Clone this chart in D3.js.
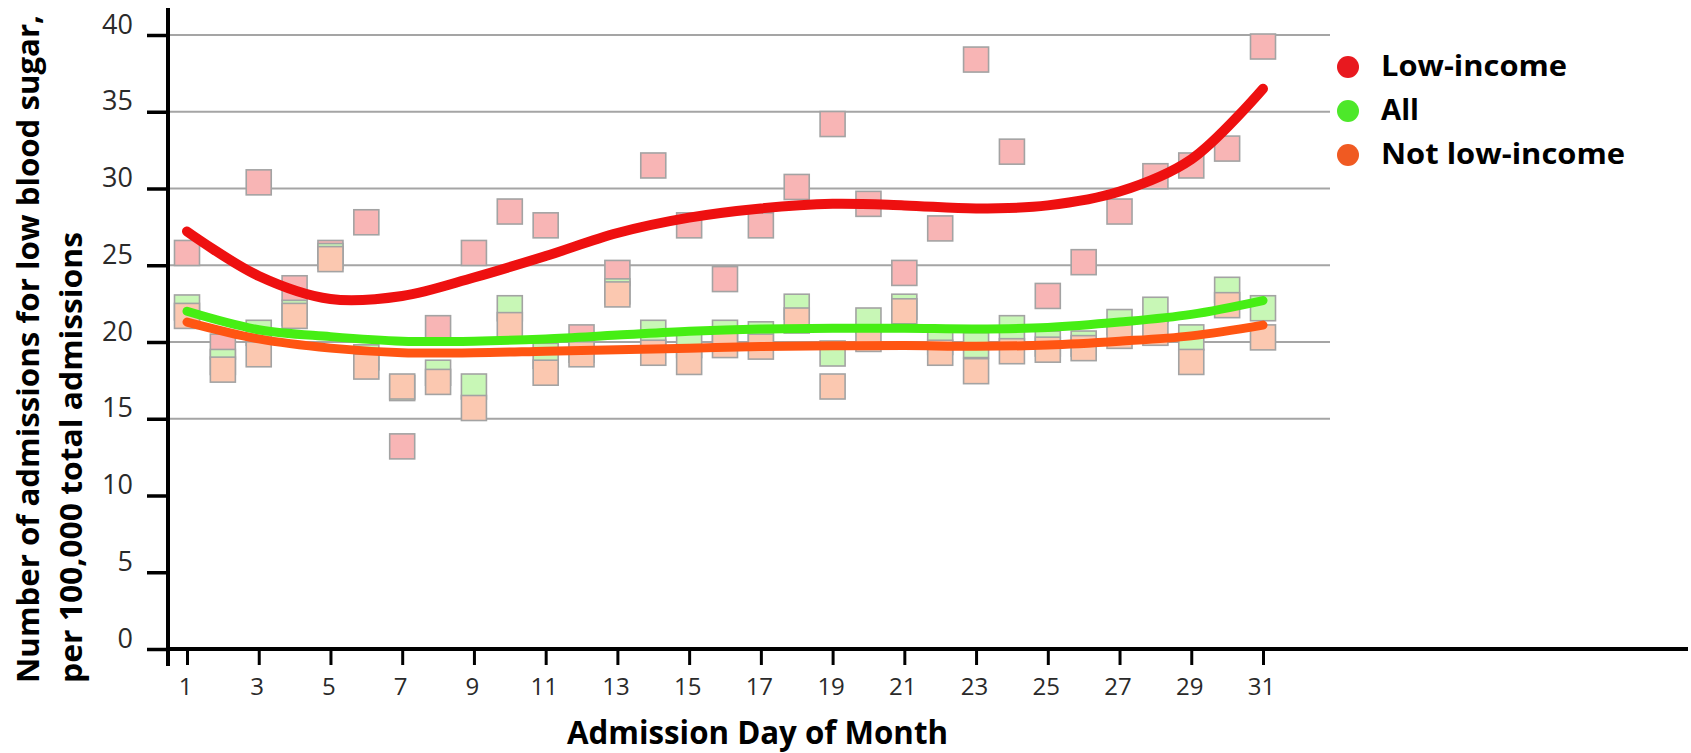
<!DOCTYPE html>
<html><head><meta charset="utf-8">
<script src="https://cdn.jsdelivr.net/npm/d3@7"></script>
<style>body{margin:0;background:#fff} svg{display:block}</style>
</head><body><svg id="c" width="1691" height="753"></svg>
<script>
// ---- data ----
const days = [1,2,3,4,5,6,7,8,9,10,11,12,13,14,15,16,17,18,19,20,21,22,23,24,25,26,27,28,29,30,31];
const lowIncome    = [25.8,19.7,30.4,23.5,25.8,27.8,13.2,20.9,25.8,28.5,27.6,20.3,24.5,31.5,27.6,24.1,27.6,30.1,34.2,29.0,24.5,27.4,38.4,32.4,23.0,25.2,28.5,30.8,31.5,32.6,39.25];
const allPatients  = [22.25,18.7,20.6,21.9,25.6,19.0,17.0,18.0,17.1,22.2,19.1,19.5,23.3,20.6,19.8,20.6,20.5,22.3,19.25,21.4,22.3,20.0,19.8,20.9,19.9,19.9,21.3,22.1,20.3,23.4,22.2];
const notLowIncome = [21.7,18.2,19.2,21.7,25.4,18.4,17.1,17.4,15.7,21.1,18.0,19.2,23.1,19.3,18.7,19.8,19.7,21.4,17.1,20.2,22.0,19.3,18.1,19.4,19.5,19.6,20.4,20.6,18.7,22.4,20.3];

const trendDays = [1,3,5,7,9,11,13,15,17,19,21,23,25,27,29,31];
const lowIncomeTrend    = [27.2,24.3,22.8,23.0,24.2,25.6,27.1,28.1,28.7,29.0,28.9,28.7,28.9,29.8,31.9,36.5];
const allTrend          = [22.0,20.8,20.35,20.05,20.05,20.2,20.45,20.7,20.85,20.9,20.9,20.85,20.95,21.3,21.8,22.7];
const notLowIncomeTrend = [21.3,20.2,19.6,19.3,19.3,19.4,19.5,19.6,19.7,19.75,19.77,19.72,19.8,20.05,20.4,21.1];

const yTicks = [0,5,10,15,20,25,30,35,40];
const gridValues = [15,20,25,30,35,40];
const xTicks = [1,3,5,7,9,11,13,15,17,19,21,23,25,27,29,31];
const seriesNames = ["Low-income","All","Not low-income"];
const legendColors = ["#e8191f","#4de82a","#f05a22"];
const lineColors = ["#ee1010","#46ee14","#ff5512"];
const squareFills = ["#f8b5b5","#c8f7b6","#fbc8b0"];

// ---- scales ----
const svg = d3.select("#c");
svg.append("rect").attr("width",1691).attr("height",753).attr("fill","#fff");
const x = d3.scaleLinear().domain([1,31]).range([187,1263]);
const y = d3.scaleLinear().domain([0,40]).range([649,35]);

// gridlines
svg.append("g").selectAll("line").data(gridValues).join("line")
  .attr("x1",170).attr("x2",1330)
  .attr("y1",d=>y(d)).attr("y2",d=>y(d))
  .attr("stroke","#a5a5a5").attr("stroke-width",2);

// squares: pink, then green, then peach on top
const sq = 25;
[lowIncome, allPatients, notLowIncome].forEach((vals,i)=>{
  svg.append("g").selectAll("rect").data(days).join("rect")
    .attr("x",(d)=>x(d)-sq/2)
    .attr("y",(d,j)=>y(vals[j])-sq/2)
    .attr("width",sq).attr("height",sq)
    .attr("fill",squareFills[i])
    .attr("stroke","#a3a3a3").attr("stroke-width",1.6);
});

// trend lines
const trends = [notLowIncomeTrend, allTrend, lowIncomeTrend];
const trendColors = [lineColors[2], lineColors[1], lineColors[0]];
const trendWidths = [9,9,10];
trends.forEach((vals,i)=>{
  const line = d3.line()
    .x((d)=>x(d))
    .y((d,j)=>y(vals[j]))
    .curve(d3.curveCatmullRom.alpha(0.5));
  svg.append("path").datum(trendDays)
    .attr("d",line)
    .attr("fill","none")
    .attr("stroke",trendColors[i])
    .attr("stroke-width",trendWidths[i])
    .attr("stroke-linecap","round");
});

// y axis
const yAxis = svg.append("g").attr("transform","translate(168,0)")
  .call(d3.axisLeft(y).tickValues(yTicks).tickSize(21).tickPadding(10).tickFormat(d3.format("d")));
yAxis.select(".domain").remove();
yAxis.selectAll(".tick line").attr("stroke","#000").attr("stroke-width",3.5);
yAxis.selectAll(".tick text")
  .attr("dy",null).attr("y",-2).attr("x",-35)
  .attr("font-family","'Open Sans', sans-serif").attr("font-size",27).attr("fill","#2a2a2a");

// x axis
const xAxis = svg.append("g").attr("transform","translate(0,649)")
  .call(d3.axisBottom(x).tickValues(xTicks).tickSize(16).tickPadding(4).tickFormat(d3.format("d")));
xAxis.select(".domain").remove();
xAxis.selectAll(".tick line").attr("stroke","#000").attr("stroke-width",3);
xAxis.selectAll(".tick text")
  .attr("dy",null).attr("y",46).attr("x",-2)
  .attr("font-family","'Open Sans', sans-serif").attr("font-size",24).attr("fill","#2a2a2a");

// axis lines
svg.append("line").attr("x1",166).attr("x2",1688).attr("y1",649).attr("y2",649)
  .attr("stroke","#000").attr("stroke-width",4);
svg.append("line").attr("x1",168).attr("x2",168).attr("y1",8).attr("y2",666)
  .attr("stroke","#000").attr("stroke-width",4);

// axis titles
const bold = "'Open Sans', sans-serif";
svg.append("text").attr("x",757.5).attr("y",744)
  .attr("text-anchor","middle").attr("font-family",bold).attr("font-weight","bold")
  .attr("font-size",32).attr("textLength",381).attr("lengthAdjust","spacingAndGlyphs")
  .text("Admission Day of Month");
svg.append("text").attr("transform","translate(39,683) rotate(-90)")
  .attr("font-family",bold).attr("font-weight","bold")
  .attr("font-size",31).attr("textLength",668).attr("lengthAdjust","spacingAndGlyphs")
  .text("Number of admissions for low blood sugar,");
svg.append("text").attr("transform","translate(82,683) rotate(-90)")
  .attr("font-family",bold).attr("font-weight","bold")
  .attr("font-size",31).attr("textLength",451).attr("lengthAdjust","spacingAndGlyphs")
  .text("per 100,000 total admissions");

// legend
const legendY = [67,111,155];
const legendW = [186,38,244];
const lg = svg.append("g");
seriesNames.forEach((name,i)=>{
  lg.append("circle").attr("cx",1348).attr("cy",legendY[i]).attr("r",11).attr("fill",legendColors[i]);
  lg.append("text").attr("x",1381).attr("y",legendY[i]+9)
    .attr("font-family",bold).attr("font-weight","bold").attr("font-size",28)
    .attr("textLength",legendW[i]).attr("lengthAdjust","spacingAndGlyphs")
    .text(name);
});
</script>
</body></html>
